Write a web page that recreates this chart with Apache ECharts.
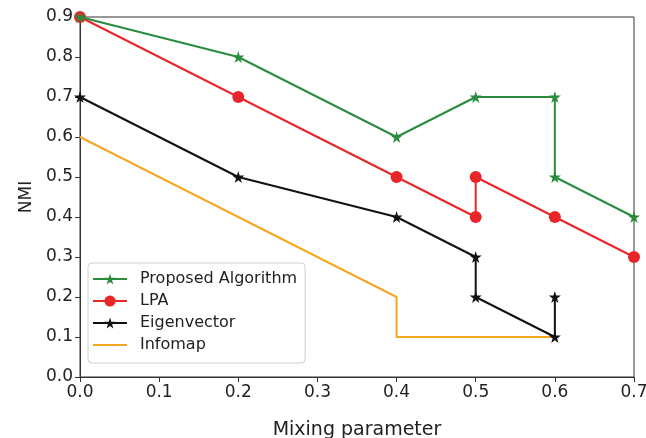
<!DOCTYPE html>
<html>
<head>
<meta charset="utf-8">
<script src="https://cdn.jsdelivr.net/npm/echarts@6/dist/echarts.min.js"></script>
<style>html,body{margin:0;padding:0;background:#fff;}#c{width:646px;height:438px;}</style>
</head>
<body>
<div id="c"></div>
<script>
const seriesNames = ['Proposed Algorithm', 'LPA', 'Eigenvector', 'Infomap'];
const proposedX = [0.0, 0.2, 0.4, 0.5, 0.6, 0.6, 0.7];
const proposedY = [0.9, 0.8, 0.6, 0.7, 0.7, 0.5, 0.4];
const lpaX = [0.0, 0.2, 0.4, 0.5, 0.5, 0.6, 0.7];
const lpaY = [0.9, 0.7, 0.5, 0.4, 0.5, 0.4, 0.3];
const eigenX = [0.0, 0.2, 0.4, 0.5, 0.5, 0.6, 0.6];
const eigenY = [0.7, 0.5, 0.4, 0.3, 0.2, 0.1, 0.2];
const infomapX = [0.0, 0.2, 0.4, 0.4, 0.6];
const infomapY = [0.6, 0.4, 0.2, 0.1, 0.1];
const xTicks = [0.0, 0.1, 0.2, 0.3, 0.4, 0.5, 0.6, 0.7];
const yTicks = [0.0, 0.1, 0.2, 0.3, 0.4, 0.5, 0.6, 0.7, 0.8, 0.9];

const zip = (xs, ys) => xs.map((x, i) => [x, ys[i]]);
const star = 'path://M50,0 L61,35 L98,35 L68,57 L79,91 L50,70 L21,91 L32,57 L2,35 L39,35 Z';
const font = 'DejaVu Sans';

const chart = echarts.init(document.getElementById('c'), null, {renderer: 'canvas'});
chart.setOption({
  animation: false,
  backgroundColor: '#fff',
  grid: {left: 80, right: 12, top: 17, bottom: 61, show: true, borderColor: '#333', borderWidth: 1,
         backgroundColor: 'transparent', containLabel: false, outerBoundsMode: 'none'},
  xAxis: {
    type: 'value', min: xTicks[0], max: xTicks[xTicks.length - 1], interval: 0.1,
    name: 'Mixing parameter', nameLocation: 'middle', nameGap: 44,
    nameTextStyle: {fontFamily: font, fontSize: 19, color: '#222'},
    axisLine: {show: true, lineStyle: {color: '#333', width: 1}},
    axisTick: {show: true, length: 5, lineStyle: {color: '#333'}},
    axisLabel: {fontFamily: font, fontSize: 17, color: '#222', margin: 7, formatter: v => v.toFixed(1)},
    splitLine: {show: false}
  },
  yAxis: {
    type: 'value', min: yTicks[0], max: yTicks[yTicks.length - 1], interval: 0.1,
    name: 'NMI', nameLocation: 'middle', nameGap: 42,
    nameTextStyle: {fontFamily: font, fontSize: 17, color: '#222'},
    axisLine: {show: true, lineStyle: {color: '#333', width: 1}},
    axisTick: {show: true, length: 5, lineStyle: {color: '#333'}},
    axisLabel: {fontFamily: font, fontSize: 17, color: '#222', margin: 7, formatter: v => v.toFixed(1)},
    splitLine: {show: false}
  },
  legend: {
    orient: 'vertical', left: 88, top: 263,
    itemWidth: 34, itemHeight: 14, itemGap: 6,
    padding: [8, 8, 10, 4],
    borderColor: '#cfcfcf', borderWidth: 1, borderRadius: 4, backgroundColor: '#fff',
    textStyle: {fontFamily: font, fontSize: 16, color: '#222', padding: [0, 0, 0, 8]},
    data: [
      {name: seriesNames[0]},
      {name: seriesNames[1]},
      {name: seriesNames[2]},
      {name: seriesNames[3], itemStyle: {opacity: 0}}
    ]
  },
  series: [
    {name: seriesNames[0], type: 'line', data: zip(proposedX, proposedY), color: '#2a8c3c',
     lineStyle: {width: 2}, symbol: star, symbolSize: 12, clip: true, z: 5},
    {name: seriesNames[1], type: 'line', data: zip(lpaX, lpaY), color: '#e8262a',
     lineStyle: {width: 2}, symbol: 'circle', symbolSize: 12, clip: true, z: 4},
    {name: seriesNames[2], type: 'line', data: zip(eigenX, eigenY), color: '#111111',
     lineStyle: {width: 2}, symbol: star, symbolSize: 12, clip: true, z: 3},
    {name: seriesNames[3], type: 'line', data: zip(infomapX, infomapY), color: '#f5a623',
     lineStyle: {width: 2}, symbol: 'none', showSymbol: false, clip: true, z: 2}
  ]
});
</script>
</body>
</html>
